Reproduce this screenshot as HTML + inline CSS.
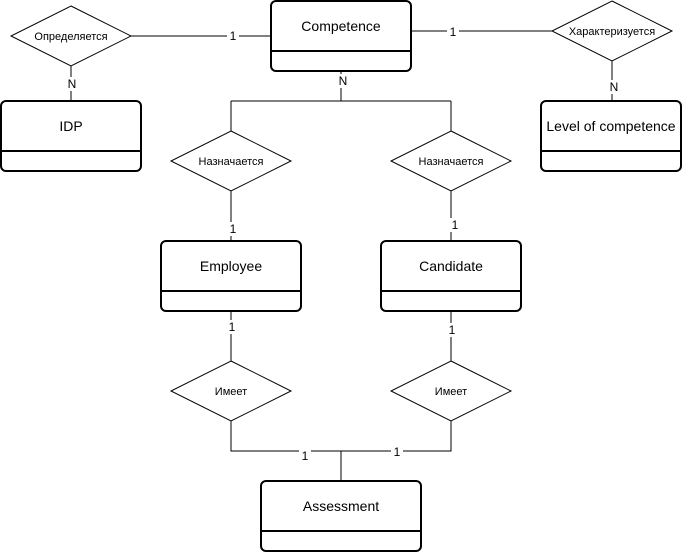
<!DOCTYPE html>
<html><head><meta charset="utf-8"><style>
html,body{margin:0;padding:0;background:#fff;}
svg{display:block;}
text{font-family:"Liberation Sans",Arial,sans-serif;fill:#000;}
</style></head><body>
<svg width="682" height="552" viewBox="0 0 682 552" xmlns="http://www.w3.org/2000/svg">
<g fill="none" stroke="#000" stroke-width="1">
<!-- connectors -->
<path d="M131,36H271"/>
<path d="M71,66V101"/>
<path d="M411,31H552"/>
<path d="M612,61V101"/>
<path d="M341,71V101M231,101H451M231,101V131M451,101V131"/>
<path d="M231,191V241M451,191V241"/>
<path d="M231,311V361M451,311V361"/>
<path d="M231,421V451H451V421M341,451V481"/>
<!-- diamonds -->
<path d="M71,6L131,36L71,66L11,36Z" fill="#fff"/>
<path d="M612,1L672,31L612,61L552,31Z" fill="#fff"/>
<path d="M231,131L291,161L231,191L171,161Z" fill="#fff"/>
<path d="M451,131L511,161L451,191L391,161Z" fill="#fff"/>
<path d="M231,361L291,391L231,421L171,391Z" fill="#fff"/>
<path d="M451,361L511,391L451,421L391,391Z" fill="#fff"/>
</g>
<g fill="#fff" stroke="#000" stroke-width="2">
<rect x="271" y="1" width="140" height="70" rx="5"/><path d="M271,51H411"/>
<rect x="1" y="101" width="140" height="70" rx="5"/><path d="M1,151H141"/>
<rect x="541" y="101" width="140" height="70" rx="5"/><path d="M541,151H681"/>
<rect x="161" y="241" width="140" height="70" rx="5"/><path d="M161,291H301"/>
<rect x="381" y="241" width="140" height="70" rx="5"/><path d="M381,291H521"/>
<rect x="261" y="481" width="160" height="70" rx="5"/><path d="M261,531H421"/>
</g>
<g font-size="14" text-anchor="middle">
<text x="341" y="31">Competence</text>
<text x="71" y="131">IDP</text>
<text x="611" y="131">Level of competence</text>
<text x="231" y="271">Employee</text>
<text x="451" y="271">Candidate</text>
<text x="341" y="511">Assessment</text>
</g>
<g font-size="11" text-anchor="middle">
<text x="71" y="40">Определяется</text>
<text x="612" y="35">Характеризуется</text>
<text x="231" y="165">Назначается</text>
<text x="451" y="165">Назначается</text>
<text x="231" y="395">Имеет</text>
<text x="451" y="395">Имеет</text>
</g>
<g font-size="12" text-anchor="middle">
<rect x="227" y="29" width="12" height="14" fill="#fff"/><text x="233" y="40">1</text>
<rect x="447" y="25" width="12" height="14" fill="#fff"/><text x="453" y="36">1</text>
<rect x="66" y="77" width="12" height="14" fill="#fff"/><text x="72" y="88">N</text>
<rect x="608" y="80" width="12" height="14" fill="#fff"/><text x="614" y="91">N</text>
<rect x="337" y="74" width="12" height="14" fill="#fff"/><text x="343" y="85">N</text>
<rect x="227" y="222" width="12" height="14" fill="#fff"/><text x="233" y="233">1</text>
<rect x="449" y="218" width="12" height="14" fill="#fff"/><text x="455" y="229">1</text>
<rect x="227" y="320" width="12" height="14" fill="#fff"/><text x="232" y="331">1</text>
<rect x="447" y="323" width="12" height="14" fill="#fff"/><text x="452" y="334">1</text>
<rect x="299" y="449" width="12" height="14" fill="#fff"/><text x="305" y="460">1</text>
<rect x="391" y="445" width="12" height="14" fill="#fff"/><text x="397" y="456">1</text>
</g>
</svg>
</body></html>
